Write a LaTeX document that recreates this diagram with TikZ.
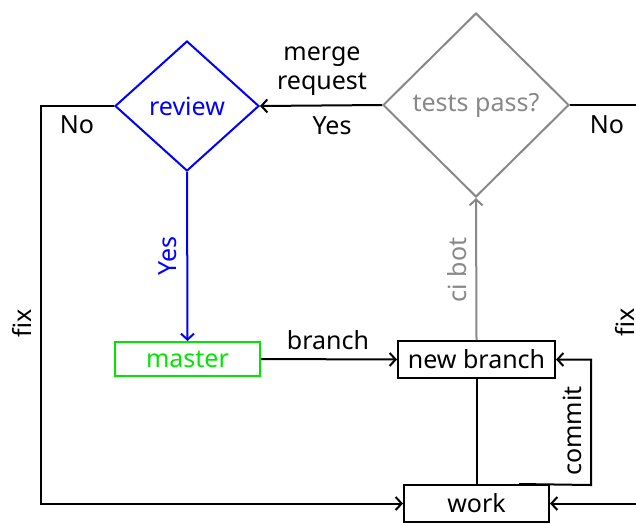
\documentclass[tikz,border=0pt]{standalone}
\usepackage{fontspec}
\setmainfont{Noto Sans}
\usetikzlibrary{shapes.geometric,arrows.meta}
\definecolor{mgreen}{RGB}{0,230,0}
\definecolor{mgray}{RGB}{136,136,136}
\begin{document}
\begin{tikzpicture}[x=1pt,y=-1pt,
  every node/.style={font=\fontsize{25}{29}\selectfont, inner sep=0pt},
  line/.style={draw, line width=2pt},
  conn/.style={line, -{Straight Barb[length=6pt,width=13pt,line width=2pt]}},
  dia/.style={diamond, line width=2pt, inner sep=0pt},
  box/.style={rectangle, draw, line width=2pt, inner sep=0pt},
  lbl/.style={anchor=center}
]
\useasboundingbox (0,0) rectangle (636,523);
\clip (0,0) rectangle (636,523);

% nodes
\node[dia, draw=blue, text=blue, minimum width=144pt, minimum height=130pt] (review) at (187,106) {review};
\node[dia, draw=mgray, text=mgray, minimum width=186pt, minimum height=184pt] (tests) at (476,105) {tests pass?};
\node[box, draw=mgreen, text=mgreen, minimum width=145pt, minimum height=34pt] (master) at (187.5,359) {master};
\node[box, minimum width=157pt, minimum height=37pt] (nb) at (476.5,359.5) {new branch};
\node[box, minimum width=145pt, minimum height=37pt] (work) at (476.5,503.5) {work};

\coordinate (lc) at (41,106);
\coordinate (rc) at (644,105);
\coordinate (cc) at (591,485);

% connectors
\draw[conn] (tests.west) -- (review.east);
\draw[conn] (review.west) -- (lc) |- (work.west);
\draw[conn, draw=blue] (review.south) -- (master.north);
\draw[conn] (master.east) -- (nb.west);
\draw[conn, draw=mgray] (nb.north) -- (tests.south);
\draw[line] (nb.south) -- (work.north);
\draw[conn] ([xshift=42.5pt]work.north) -- (cc) |- (nb.east);
\draw[conn] (tests.east) -- (rc) |- (work.east);

% labels
\node[lbl, align=center, font=\fontsize{25}{29}\selectfont] (lmr) at (322,71) {merge\\request};
\node[lbl] (lyes1) at (332,126) {Yes};
\node[lbl] (lno1) at (77,125) {No};
\node[lbl] (lno2) at (607,125) {No};
\node[lbl, rotate=90] (lfix1) at (22,323) {fix};
\node[lbl, rotate=90] (lfix2) at (625,322) {fix};
\node[lbl, rotate=90, text=blue] (lyes2) at (168,256) {Yes};
\node[lbl] (lbranch) at (328,340) {branch};
\node[lbl, rotate=90, text=mgray] (lci) at (457,270) {ci bot};
\node[lbl, rotate=90] (lcommit) at (572,431) {commit};
\end{tikzpicture}
\end{document}
